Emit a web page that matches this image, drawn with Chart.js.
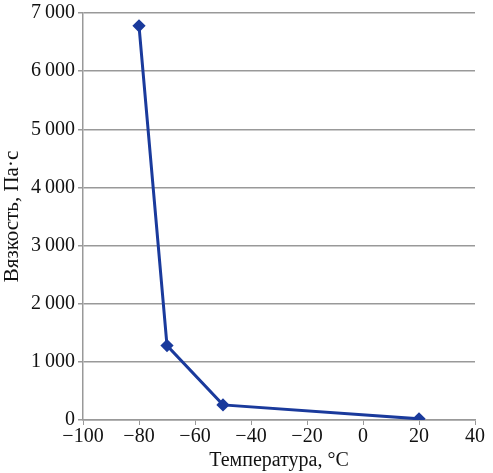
<!DOCTYPE html>
<html>
<head>
<meta charset="utf-8">
<script src="https://cdn.jsdelivr.net/npm/chart.js@4/dist/chart.umd.min.js"></script>
<style>
  html, body { margin: 0; padding: 0; background: #fff; }
  #wrap { width: 493px; height: 473px; }
</style>
</head>
<body>
<div id="wrap"><canvas id="chart"></canvas></div>
<script>
// temperature, °C and viscosity, Pa·s
const temperatures = [-80, -70, -50, 20];
const viscosity = [6780, 1280, 260, 20];

const xTicks = [-100, -80, -60, -40, -20, 0, 20, 40];
const yTicks = [0, 1000, 2000, 3000, 4000, 5000, 6000, 7000];

const FONT = "'Liberation Serif', 'DejaVu Serif', serif";
const LINE = '#1a3a9c';

function fmtNum(v) {
    const s = Math.abs(v).toString().replace(/\B(?=(\d{3})+(?!\d))/g, '\u2009');
    return (v < 0 ? '\u2212' : '') + s;
}

new Chart(document.getElementById('chart'), {
    type: 'scatter',
    data: {
        datasets: [{
            data: temperatures.map((t, i) => ({ x: t, y: viscosity[i] })),
            showLine: true,
            borderColor: LINE,
            backgroundColor: LINE,
            borderWidth: 3,
            pointStyle: 'rectRot',
            pointRadius: 4.5,
            pointHoverRadius: 4.5,
            tension: 0
        }]
    },
    options: {
        responsive: true,
        maintainAspectRatio: false,
        animation: false,
        layout: { padding: { top: 0, right: 18, bottom: 0, left: 0 } },
        plugins: { legend: { display: false }, tooltip: { enabled: false } },
        scales: {
            x: {
                type: 'linear',
                min: -100, max: 40,
                afterBuildTicks: s => { s.ticks = xTicks.map(v => ({ value: v })); },
                grid: { drawOnChartArea: false, drawTicks: true, tickLength: 5, color: '#999' },
                border: { color: '#999', width: 1.5 },
                ticks: { color: '#111', font: { family: FONT, size: 20 }, padding: 0, maxRotation: 0,
                         callback: v => fmtNum(v) },
                title: { display: true, text: 'Температура, °C', color: '#111',
                         font: { family: FONT, size: 20 }, padding: { top: 0, bottom: 0 } }
            },
            y: {
                min: 0, max: 7000,
                afterBuildTicks: s => { s.ticks = yTicks.map(v => ({ value: v })); },
                grid: { color: '#999', lineWidth: 1.5, tickLength: 5 },
                border: { color: '#999', width: 1.5 },
                ticks: { color: '#111', font: { family: FONT, size: 20, lineHeight: 1 }, padding: 3,
                         callback: v => fmtNum(v) },
                title: { display: true, text: 'Вязкость, Па·с', color: '#111',
                         font: { family: FONT, size: 21 }, padding: { top: 0, bottom: 3 } },
                afterFit: s => { s.width = 83; }
            }
        }
    }
});
</script>
</body>
</html>
